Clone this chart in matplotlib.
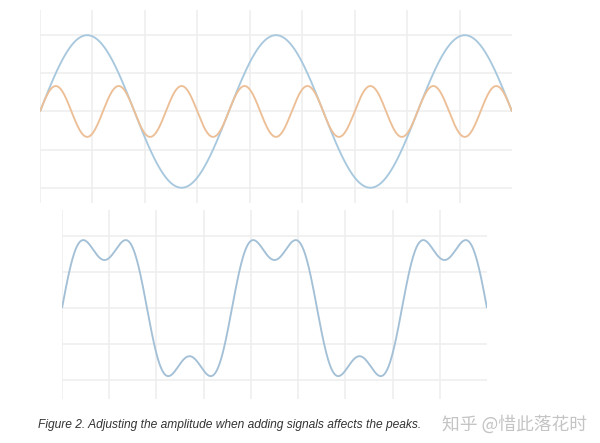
import numpy as np
import matplotlib
matplotlib.use('Agg')
import matplotlib.pyplot as plt

# signal components: sin(f*x) with amplitude a
freqs = [1, 3]
amps = [1.0, 1.0 / 3.0]
n_cycles = 2.5          # periods of the base wave shown
n_vgrid = 9             # vertical grid intervals across the width
hgrid = [-1.0, -0.5, 0.0, 0.5, 1.0]

caption = 'Figure 2. Adjusting the amplitude when adding signals affects the peaks.'
watermark = '知乎 @惜此落花时'

BLUE = '#a8c8de'
ORANGE = '#ecbf96'
SUM_BLUE = '#a3c0d6'
GRID = '#eeeeee'

x_max = n_cycles * 2 * np.pi
x = np.linspace(0, x_max, 1000)
waves = [a * np.sin(f * x) for f, a in zip(freqs, amps)]
total = np.sum(waves, axis=0)

fig = plt.figure(figsize=(6.0, 4.43), dpi=100)
ax1 = fig.add_axes([40 / 600, 1 - 203 / 443, 472 / 600, 193 / 443])
ax2 = fig.add_axes([62 / 600, 1 - 399 / 443, 425 / 600, 189 / 443])


def style(ax, ylim):
    ax.set_xlim(0, x_max)
    ax.set_ylim(*ylim)
    for k in range(n_vgrid):
        ax.axvline(k * x_max / n_vgrid, color=GRID, lw=1.1, zorder=0)
    for h in hgrid:
        ax.axhline(h, color=GRID, lw=1.1, zorder=0)
    for s in ax.spines.values():
        s.set_visible(False)
    ax.set_xticks([])
    ax.set_yticks([])
    ax.patch.set_alpha(0)


style(ax1, (-1.2, 1.33))
ax1.plot(x, waves[0], color=BLUE, lw=1.35, solid_capstyle='butt')
ax1.plot(x, waves[1], color=ORANGE, lw=1.35, solid_capstyle='butt')

style(ax2, (-1.26, 1.36))
ax2.plot(x, total, color=SUM_BLUE, lw=1.35, solid_capstyle='butt')

fig.text(38 / 600, 1 - 425 / 443, caption, fontsize=8.65, style='italic',
         family='Liberation Sans', color='#333333', va='center', ha='left')
fig.text(442 / 600, 1 - 424 / 443, watermark, fontsize=12.8,
         family=['Noto Sans CJK SC', 'DejaVu Sans'], color='#c4c4c4',
         va='center', ha='left')

fig.savefig('out.png', dpi=100)
